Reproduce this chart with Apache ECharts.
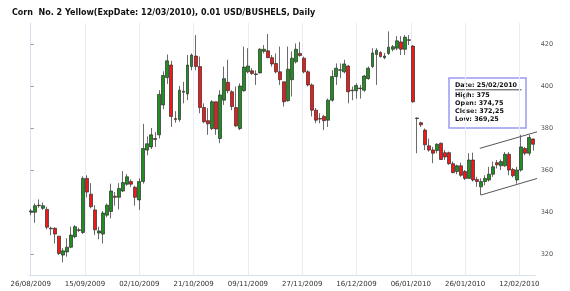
<!DOCTYPE html>
<html><head><meta charset="utf-8">
<script src="https://cdn.jsdelivr.net/npm/echarts@6/dist/echarts.min.js"></script>
<style>html,body{margin:0;padding:0;background:#fff}#c{width:570px;height:291px}</style>
</head><body><div id="c"></div>
<script>
const title = 'Corn  No. 2 Yellow(ExpDate: 12/03/2010), 0.01 USD/BUSHELS, Daily';
const dates = [
'26/08/2009','27/08/2009','28/08/2009','31/08/2009',
'01/09/2009','02/09/2009','03/09/2009','04/09/2009','08/09/2009','09/09/2009','10/09/2009','11/09/2009','14/09/2009','15/09/2009','16/09/2009','17/09/2009','18/09/2009','21/09/2009','22/09/2009','23/09/2009','24/09/2009','25/09/2009','28/09/2009','29/09/2009','30/09/2009',
'01/10/2009','02/10/2009','05/10/2009','06/10/2009','07/10/2009','08/10/2009','09/10/2009','12/10/2009','13/10/2009','14/10/2009','15/10/2009','16/10/2009','19/10/2009','20/10/2009','21/10/2009','22/10/2009','23/10/2009','26/10/2009','27/10/2009','28/10/2009','29/10/2009','30/10/2009',
'02/11/2009','03/11/2009','04/11/2009','05/11/2009','06/11/2009','09/11/2009','10/11/2009','11/11/2009','12/11/2009','13/11/2009','16/11/2009','17/11/2009','18/11/2009','19/11/2009','20/11/2009','23/11/2009','24/11/2009','25/11/2009','27/11/2009','30/11/2009',
'01/12/2009','02/12/2009','03/12/2009','04/12/2009','07/12/2009','08/12/2009','09/12/2009','10/12/2009','11/12/2009','14/12/2009','15/12/2009','16/12/2009','17/12/2009','18/12/2009','21/12/2009','22/12/2009','23/12/2009','24/12/2009','28/12/2009','29/12/2009','30/12/2009','31/12/2009',
'04/01/2010','05/01/2010','06/01/2010','07/01/2010','08/01/2010','11/01/2010','12/01/2010','13/01/2010','14/01/2010','15/01/2010','19/01/2010','20/01/2010','21/01/2010','22/01/2010','25/01/2010','26/01/2010','27/01/2010','28/01/2010','29/01/2010',
'01/02/2010','02/02/2010','03/02/2010','04/02/2010','05/02/2010','08/02/2010','09/02/2010','10/02/2010','11/02/2010','12/02/2010','16/02/2010','17/02/2010','18/02/2010','19/02/2010','22/02/2010','23/02/2010','24/02/2010','25/02/2010'];
const opens = [340,339.9,343.25,341.75,341.25,332.25,332.25,328.5,319.5,321,323.25,328.25,331.5,330.25,356,348.5,341,330,329.5,338.5,
340.25,347.5,347,350,353.25,354.5,351.75,345.75,354.5,369.5,371,375,376.75,391,404,410,384.5,384,397.5,396.25,
409.25,414.25,409.25,389.75,383.5,379.75,392.5,375,393.25,401.75,397.25,389.75,379.75,397.75,406.75,407.25,405.75,406.25,416.5,416.75,
413.5,410.75,406.75,402,393,403,411.5,415.5,413.25,406.75,400.5,388.5,384.5,385.5,383.75,393.25,404.5,407.5,406.75,409.5,
397.75,397.75,399,398,403.5,409.25,415,416,413.5,415.5,417.5,418,421,417.5,422,419,384.5,382.5,379,371.5,
369.5,369.25,372.75,368.25,368.25,363,359.25,362,359.25,356,364.75,355.5,352,354.5,355.25,358,363.5,362,362,367.5,
360.25,355.25,360,370.25,368,374.75];
const closes = [340.5,343,343,343,332.75,332,329.5,320.25,321.5,323.25,329,333,331.25,356,349.5,342.5,331.5,331,339.5,343.25,
350,347,351.25,354,356.75,353.25,347,354.5,370.25,372.5,376.75,374.5,396,405,412,385.5,384,398,397,410,
414.75,409.25,389.75,383,382,392.5,379.5,395.75,403.5,397.75,390.25,381,400,409,409.5,406,405.5,417.5,417.5,413.5,
410.5,406.75,403,392.5,408,413.25,417.5,414.5,406.75,400.5,388.5,383.75,384.25,383.5,393.25,404.5,408.5,407.75,410.5,397.25,
398,400.25,398.75,404.75,408.5,415.75,417,414,414.25,418.5,418.75,421.5,417.5,423.25,421.75,392.5,384.75,381.5,372,369.5,
368,372.25,365,366.25,363,358.75,362,357.5,356,364.75,355.25,354.5,354.5,356,358,361.5,362.5,364,367.5,360,
357.25,360,371,368,375.5,372.25];
const highs = [341.5,344.1,346,344.5,342.5,333,332.75,328.5,322.75,327.5,333,333.75,332.5,357,357.5,353.75,343.25,333,340.5,344,
353.5,349.5,353.75,359.5,358,355.5,352.5,356,382,376,380,378,398,407,415,412,388,400,402,414.75,
415.5,424.25,414,391.75,389.5,393.25,392.5,398,409.25,412.5,398,399.75,401.25,418.75,418,408.5,407.5,418,419.5,424.75,
414.75,415.5,418.75,402,418.75,416.5,420.25,421,414,407.5,401.25,389.5,387,386.25,394,407.5,410.75,410.75,412.5,410,
399.75,401.25,400.5,405.25,409.25,418,418,416.5,415.75,426,419.5,423.75,423.75,424.25,424.25,419.5,385,383,379.75,375,
371,372.75,373,369.5,368.75,364,362.5,363.5,360,368,368.25,356.75,356,357.5,361.5,364,364.75,365,368.5,368.5,
361,361.5,376.75,371,376.75,375];
const lows = [338.5,334.9,342,341,331.75,329,325,319.5,316,318.75,322.75,327.5,330.5,329.5,347,341.75,329,327,325,337.5,
337,343,341.25,349.5,352.5,352,343,341,353.5,367,370,371,375,389,401,380.5,382.5,383,391.75,393.25,
407.5,407.5,387,382.25,376.75,379,376.75,372.75,391,396.5,388.5,380.5,379,397.25,406,405.25,400.5,406,415.5,413.25,
409.25,406,400.5,390.25,392.5,395,410.75,414,406,399.75,385.5,382.25,382.25,379,380.5,392.5,400.5,403.75,406,391.75,
393.25,394,394,397.25,403,408.5,400.5,413.5,412.75,414.75,416.5,417,414.75,414.75,419.5,392,368,380.5,369.5,368.75,
363.25,368,364.75,364.75,362.5,358.5,358,356.75,355.25,356,354.5,352,348,352.75,354.5,356.75,360.75,360,361.5,357.5,
356.5,353.5,359.25,367,366.75,369.25];
const xTickLabels = ['26/08/2009','15/09/2009','02/10/2009','21/10/2009','09/11/2009','27/11/2009','16/12/2009','06/01/2010','26/01/2010','12/02/2010'];
const yTickValues = [320,340,360,380,400,420];
const trendUpper = [[111.7,370.3],[126,378.2]];
const trendLower = [[112,348.1],[126,356]];

const chart = echarts.init(document.getElementById('c'), null, {renderer:'canvas'});
const last = dates.length - 1;
const fmt = v => String(v).replace('.', ',');
const FONT = '"DejaVu Sans", Verdana, sans-serif';
const TIPFONT = 'bold 6.4px ' + FONT;
const tipRows = [
  'High: ' + fmt(highs[last]),
  'Open: ' + fmt(opens[last]),
  'Close: ' + fmt(closes[last]),
  'Low: ' + fmt(lows[last])
];
const tipChildren = [
  {type:'rect', shape:{x:0,y:0,width:77,height:50}, style:{fill:'#fff', stroke:'#9b9bf0', lineWidth:1.5}},
  {type:'text', x:6, y:7.8, style:{text:'Date: ' + dates[last], font:TIPFONT, fill:'#111', verticalAlign:'middle'}},
  {type:'line', shape:{x1:6,y1:11.8,x2:72.5,y2:11.8}, style:{stroke:'#111', lineWidth:0.8}}
];
tipRows.forEach((t, i) => tipChildren.push({type:'text', x:6, y:17 + i*8, style:{text:t, font:TIPFONT, fill:'#111', verticalAlign:'middle'}}));

chart.setOption({
  animation: false,
  backgroundColor: '#fff',
  title: {text: title, left: 7, top: 4, textStyle: {fontFamily: FONT, fontSize: 8, fontWeight: 'bold', color: '#111'}},
  grid: [
    {left: 28.7, right: 34.7, top: 23, bottom: 16},
    {left: 30.7, width: 488.7, top: 23, bottom: 16}
  ],
  xAxis: [
    {type:'category', gridIndex:0, data: dates, boundaryGap: true,
     axisLine:{show:true, lineStyle:{color:'#d6e1ee'}}, axisTick:{show:false}, axisLabel:{show:false}, splitLine:{show:false}},
    {type:'value', gridIndex:1, min:0, max:9, interval:1,
     axisLine:{show:false}, axisTick:{show:false},
     splitLine:{show:true, lineStyle:{color:'#e6edf6', width:1}},
     axisLabel:{formatter: v => xTickLabels[v] || '', fontFamily: FONT, fontSize: 7, color:'#333', margin: 6}},
    {type:'value', gridIndex:0, min:-0.5, max: dates.length - 0.5, show:false}
  ],
  yAxis: [
    {type:'value', gridIndex:0, position:'right', min:310, max:430, offset: 1.4, scale: true,
     axisLine:{show:true, lineStyle:{color:'#d6e1ee'}},
     axisTick:{show:true, length:3, customValues: yTickValues, lineStyle:{color:'#999'}},
     axisLabel:{customValues: yTickValues, fontFamily: FONT, fontSize: 6.5, color:'#555', margin: 4},
     splitLine:{show:false}},
    {type:'value', gridIndex:1, min:0, max:1, show:false}
  ],
  series: [
    {type:'candlestick', xAxisIndex:0, yAxisIndex:0, barWidth: 3.4,
     data: dates.map((d, i) => [opens[i], closes[i], lows[i], highs[i]]),
     itemStyle:{color:'#1f8f1f', color0:'#f21818', borderColor:'#2b2b2b', borderColor0:'#2b2b2b', borderWidth:0.7}},
    {type:'line', xAxisIndex:2, yAxisIndex:0, data: trendUpper, symbol:'none', clip:false,
     lineStyle:{color:'#555', width:1}},
    {type:'line', xAxisIndex:2, yAxisIndex:0, data: trendLower, symbol:'none', clip:false,
     lineStyle:{color:'#555', width:1}}
  ],
  graphic: [{type:'group', x:449, y:78, children: tipChildren}]
});
</script></body></html>
